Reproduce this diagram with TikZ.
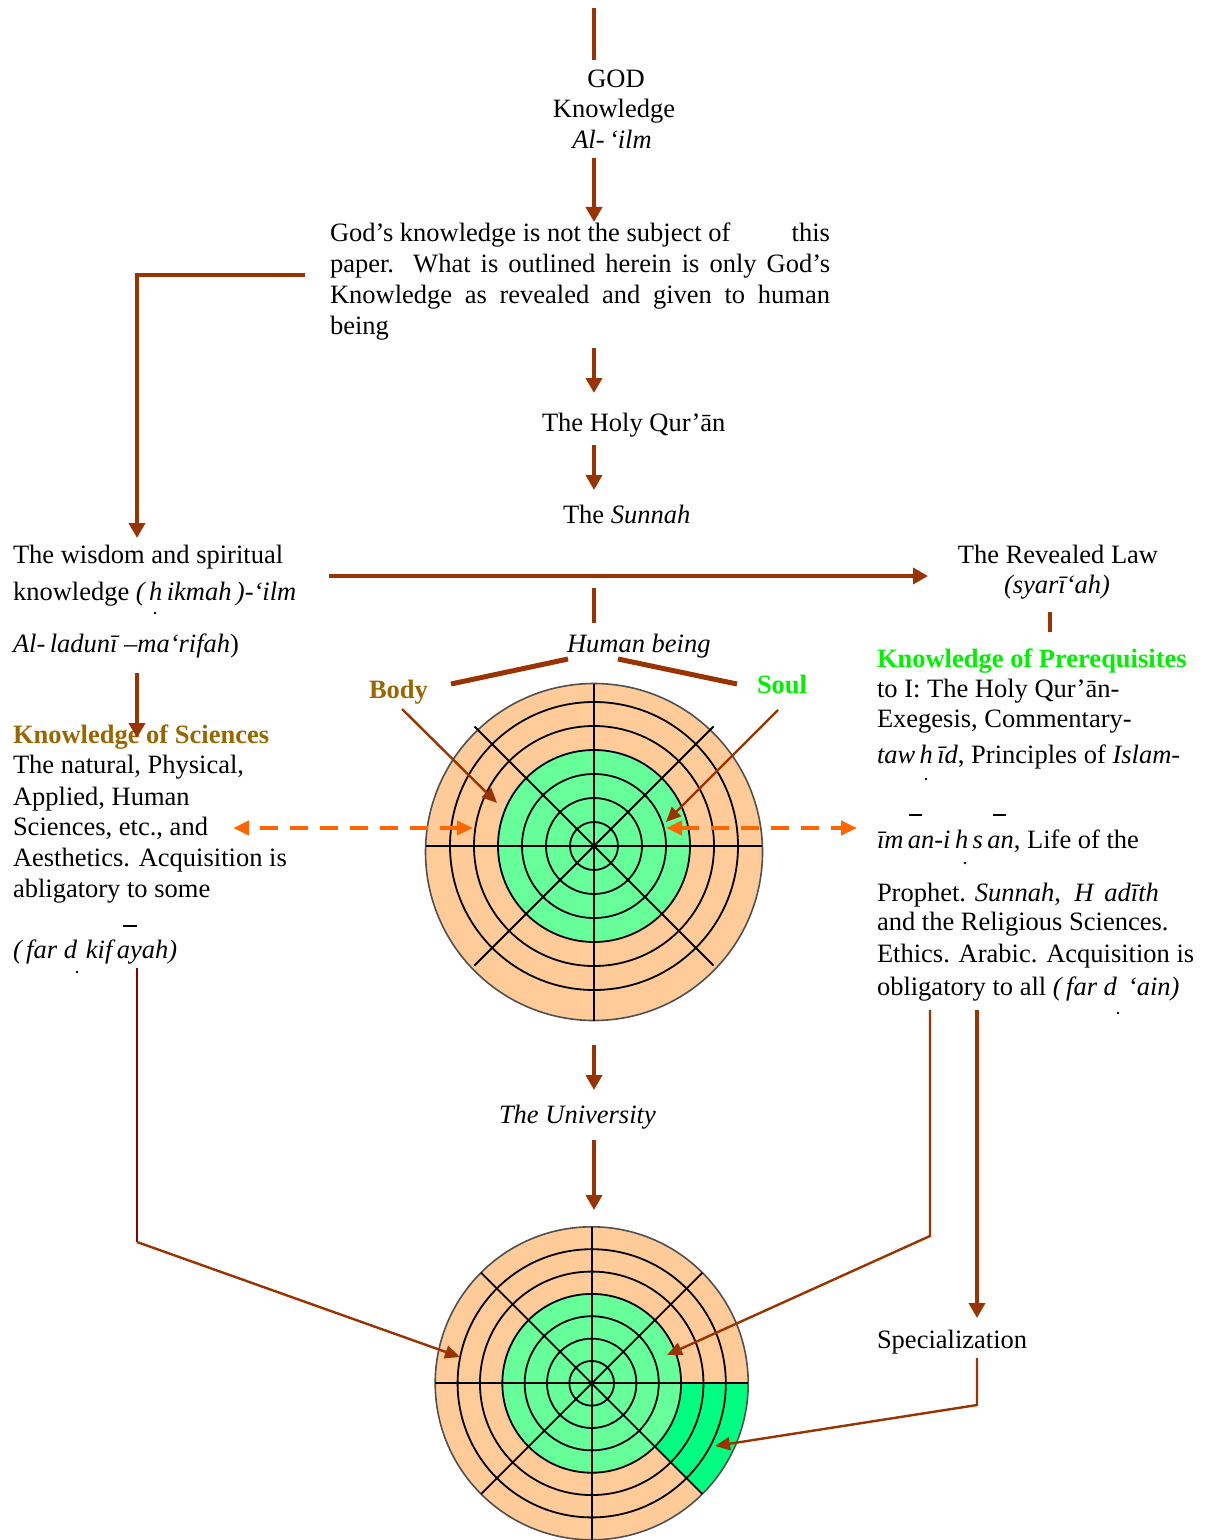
\documentclass[tikz,border=0pt]{standalone}
\usepackage{fontspec}
\setmainfont{Liberation Serif}
\usetikzlibrary{arrows.meta,calc}
\definecolor{brn}{HTML}{993300}
\definecolor{darkbrn}{HTML}{880000}
\definecolor{gold}{HTML}{996600}
\definecolor{lime}{HTML}{00F000}
\definecolor{orng}{HTML}{FF6600}
\definecolor{peach}{HTML}{FFCC99}
\definecolor{lgrn}{HTML}{66FF99}
\definecolor{bgrn}{HTML}{00FF80}
\definecolor{rimgray}{HTML}{505050}
\begin{document}
\begin{tikzpicture}[x=0.5pt,y=-0.5pt,
  every node/.style={inner sep=0pt, outer sep=0pt},
  font=\fontsize{13.25}{15.4}\selectfont,
  ltext/.style={anchor=base west},
  ctext/.style={anchor=base},
  heavy/.style={draw=brn, line width=2.3pt},
  heavyarrow/.style={heavy, -{Triangle[length=7.5pt,width=8pt]}},
  slim/.style={draw=brn, line width=1.2pt},
  slimarrow/.style={slim, -{Triangle[length=7.5pt,width=6.5pt]}},
  dasharrow/.style={draw=orng, line width=2pt, dash pattern=on 9pt off 6pt,
    {Triangle[length=8pt,width=7pt]}-{Triangle[length=8pt,width=7pt]}},
  ringline/.style={draw=black, line width=0.9pt},
  rimline/.style={draw=rimgray, line width=0.8pt},
  diacritic/.style={line width=0.55pt},
]
\useasboundingbox (0,0) rectangle (1207,1540);

% ---------------- central column ----------------
\node[ctext] (god)  at (616,88)  {GOD};
\node[ctext] (know) at (614,118) {Knowledge};
\node[ctext] (ilm)  at (612,149) {\itshape Al-\,‘ilm};

\node[ltext] (p1) at (330,242) {\makebox[250pt][s]{God’s knowledge is not the subject of\hfill this}};
\node[ltext] (p2) at (330,273) {\makebox[250pt][s]{paper. What is outlined herein is only God’s}};
\node[ltext] (p3) at (330,304) {\makebox[250pt][s]{Knowledge as revealed and given to human}};
\node[ltext] (p4) at (330,335) {being};

\node[ltext] (quran)  at (542,431) {The Holy Qur’ān};
\node[ltext] (sunnah) at (563,523) {The \textit{Sunnah}};
\node[ltext] (human)  at (567,652) {\itshape Human being};
\node[ltext,text=gold,font=\fontsize{13.25}{15.4}\selectfont\bfseries] (body) at (369,698) {Body};
\node[ltext,text=lime,font=\fontsize{13.25}{15.4}\selectfont\bfseries] (soul) at (757,693) {Soul};
\node[ltext] (univ) at (499,1123) {\itshape The University};
\node[ltext] (spec) at (877,1348) {Specialization};

% ---------------- left column ----------------
\node[ltext] (w1) at (13,563) {The wisdom and spiritual};
\node[ltext] (w2) at (13,600) {knowledge \textit{(\,h\,ikmah\,)-‘ilm}};
\node[ltext] (w3) at (13,652) {\textit{Al-\,ladunī –ma‘rifah})};
\fill (155,613) circle[radius=1.3];

\node[ltext,text=gold,font=\fontsize{13.25}{15.4}\selectfont\bfseries] (ks) at (13,743) {Knowledge of Sciences};
\node[ltext] (s1) at (13,773) {The natural, Physical,};
\node[ltext] (s2) at (13,805) {Applied, Human};
\node[ltext] (s3) at (13,835) {Sciences, etc., and};
\node[ltext] (s4) at (13,866) {Aesthetics. Acquisition is};
\node[ltext] (s5) at (13,897) {abligatory to some};
\draw[diacritic] (123,926) -- (137,926);
\node[ltext] (s6) at (13,958) {\itshape (\,far d\,\,kif\,ayah)};
\fill (77,972) circle[radius=1.3];

% ---------------- right column ----------------
\node[ctext] (law)  at (1058,563) {The Revealed Law};
\node[ctext] (sya)  at (1057,593) {\itshape (syarī‘ah)};
\node[ltext,text=lime,font=\fontsize{13.25}{15.4}\selectfont\bfseries] (kp) at (877,667) {Knowledge of Prerequisites};
\node[ltext] (r1) at (877,697) {to I: The Holy Qur’ān-};
\node[ltext] (r2) at (877,727) {Exegesis, Commentary-};
\node[ltext] (r3) at (877,763) {\textit{taw\,h\,īd}, Principles of \textit{Islam-}};
\fill (926,779) circle[radius=1.3];
\draw[diacritic] (909,815) -- (922,815);
\draw[diacritic] (993,815) -- (1006,815);
\node[ltext] (r4) at (877,848) {\textit{īm\,an-i\,h\,s\,an}, Life of the};
\fill (965,863) circle[radius=1.3];
\node[ltext] (r5) at (877,901) {Prophet. \textit{Sunnah}, \ \textit{H\ \,adīth}};
\node[ltext] (r6) at (877,930) {and the Religious Sciences.};
\node[ltext] (r7) at (877,962) {Ethics. Arabic. Acquisition is};
\node[ltext] (r8) at (877,995) {obligatory to all \textit{(\,far d\,\ ‘ain)}};
\fill (1118,1013) circle[radius=1.3];

% ---------------- connector end points ----------------
\coordinate (top0) at (594,8);     \coordinate (top1) at (594,60);
\coordinate (a0) at (594,158);     \coordinate (a1) at (594,222);
\coordinate (e0) at (305,275);     \coordinate (e1) at (137,538);
\coordinate (b0) at (594,348);     \coordinate (b1) at (594,393);
\coordinate (c0) at (594,445);     \coordinate (c1) at (594,490);
\coordinate (h0) at (329,576);     \coordinate (h1) at (928,576);
\coordinate (v0) at (594,588);     \coordinate (v1) at (594,623);
\coordinate (q0) at (1050,612);    \coordinate (q1) at (1050,632);
\coordinate (k0) at (137,673);     \coordinate (k1) at (137,738);
\coordinate (hl0) at (568,659);    \coordinate (hl1) at (451,684);
\coordinate (hr0) at (618,659);    \coordinate (hr1) at (737,684);
\coordinate (bd0) at (402,709);    \coordinate (bd1) at (497,803);
\coordinate (sl0) at (778,710);    \coordinate (sl1) at (666,822);
\coordinate (ol0) at (473,828);    \coordinate (ol1) at (233,828);
\coordinate (or0) at (666,828);    \coordinate (or1) at (857,828);
\coordinate (u0) at (594,1045);    \coordinate (u1) at (594,1090);
\coordinate (u2) at (594,1140);    \coordinate (u3) at (594,1210);
\coordinate (lk0) at (137,968);    \coordinate (lk1) at (137,1242);  \coordinate (lk2) at (460,1357);
\coordinate (rk0) at (930,1010);   \coordinate (rk1) at (930,1236);  \coordinate (rk2) at (667,1355);
\coordinate (sp0) at (977,1010);   \coordinate (sp1) at (977,1318);
\coordinate (sq0) at (977,1358);   \coordinate (sq1) at (977,1405);  \coordinate (sq2) at (715,1446);

% ---------------- upper wheel: the human being ----------------
\coordinate (hc) at (594,846);
\fill[peach] (594,852) circle (168.5);
\fill[lgrn] (hc) circle (96);
\draw[rimline] (594,852) circle (168.5);
\foreach \r in {24,48,72,96,120,144} \draw[ringline] (hc) circle (\r);
\draw[ringline] (425.6,846) -- (762.4,846);
\draw[ringline] (594,683.5) -- (594,1020.5);
\draw[ringline] ($(hc)+(45:169)$) -- ($(hc)+(225:169)$);
\draw[ringline] ($(hc)+(135:169)$) -- ($(hc)+(315:169)$);

% ---------------- lower wheel: the university ----------------
\coordinate (bc) at (591.7,1383.3);
\fill[peach] (bc) circle (156.5);
\fill[lgrn] (bc) circle (89.4);
\fill[bgrn] ($(bc)+(0:89.4)$) -- ($(bc)+(0:156.5)$)
   arc[start angle=0, end angle=45, radius=156.5]
   -- ($(bc)+(45:89.4)$) arc[start angle=45, end angle=0, radius=89.4] -- cycle;
\draw[rimline] (bc) circle (156.5);
\foreach \r in {22.35,44.7,67.05,89.4,111.75,134.1} \draw[ringline] (bc) circle (\r);
\draw[ringline] ($(bc)+(-156.5,0)$) -- ($(bc)+(156.5,0)$);
\draw[ringline] ($(bc)+(0,-156.5)$) -- ($(bc)+(0,156.5)$);
\draw[ringline] ($(bc)+(45:156.5)$) -- ($(bc)+(225:156.5)$);
\draw[ringline] ($(bc)+(135:156.5)$) -- ($(bc)+(315:156.5)$);

% ---------------- connectors ----------------
\draw[heavy] (top0) -- (top1);
\draw[heavyarrow] (a0) -- (a1);
\draw[heavyarrow] (e0) -| (e1);
\draw[heavyarrow] (b0) -- (b1);
\draw[heavyarrow] (c0) -- (c1);
\draw[heavyarrow] (h0) -- (h1);
\draw[heavy] (v0) -- (v1);
\draw[heavy] (q0) -- (q1);
\draw[heavyarrow] (k0) -- (k1);
\draw[heavy, line width=2.5pt] (hl0) -- (hl1);
\draw[heavy, line width=2.5pt] (hr0) -- (hr1);
\draw[slimarrow] (bd0) -- (bd1);
\draw[slimarrow] (sl0) -- (sl1);
\draw[dasharrow] (ol0) -- (ol1);
\draw[dasharrow] (or0) -- (or1);
\draw[heavyarrow] (u0) -- (u1);
\draw[heavyarrow] (u2) -- (u3);
\draw[draw=darkbrn, line width=1.2pt] (lk0) -- (lk1);
\draw[slimarrow] (lk1) -- (lk2);
\draw[slimarrow] (rk0) -- (rk1) -- (rk2);
\draw[heavyarrow] (sp0) -- (sp1);
\draw[slimarrow] (sq0) -- (sq1) -- (sq2);
\end{tikzpicture}
\end{document}
